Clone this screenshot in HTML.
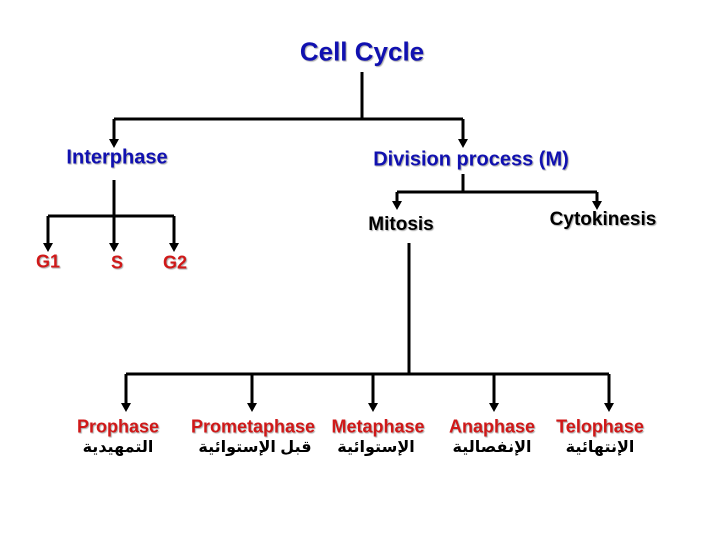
<!DOCTYPE html>
<html><head><meta charset="utf-8"><style>
body{margin:0;width:720px;height:540px;background:#fff;position:relative;overflow:hidden;font-family:"Liberation Sans",Arial,sans-serif;font-weight:bold}
.t{position:absolute;transform:translate(-50%,-50%);white-space:nowrap;text-shadow:1px 1px 1px #aaa}
.b{color:#1010b0;font-size:20px}
.r{color:#d01818;font-size:18px}
.k{color:#000;font-size:19px}
.a{color:#000;font-size:16px;font-family:"Liberation Sans","DejaVu Sans",sans-serif;text-shadow:none}
</style></head><body>
<svg width="720" height="540" style="position:absolute;left:0;top:0">
<g stroke="#000" stroke-width="3" fill="none">
<path d="M362,72 V119"/><path d="M114,119 H463"/>
<path d="M114,119 V140"/><path d="M463,119 V140"/>
<path d="M114,180 V216"/><path d="M48,216 H174"/>
<path d="M48,216 V244"/><path d="M114,216 V244"/><path d="M174,216 V244"/>
<path d="M463,174 V192"/><path d="M397,192 H597"/>
<path d="M397,192 V203"/><path d="M597,192 V203"/>
<path d="M409,243 V374"/><path d="M126,374 H609"/>
<path d="M126,374 V404"/><path d="M252,374 V404"/><path d="M373,374 V404"/><path d="M494,374 V404"/><path d="M609,374 V404"/>
</g>
<g fill="#000">
<polygon points="109,139 119,139 114,148"/><polygon points="458,139 468,139 463,148"/>
<polygon points="43,243 53,243 48,252"/><polygon points="109,243 119,243 114,252"/><polygon points="169,243 179,243 174,252"/>
<polygon points="392,201 402,201 397,210"/><polygon points="592,201 602,201 597,210"/>
<polygon points="121,403 131,403 126,412"/><polygon points="247,403 257,403 252,412"/><polygon points="368,403 378,403 373,412"/><polygon points="489,403 499,403 494,412"/><polygon points="604,403 614,403 609,412"/>
</g></svg>
<div class="t b" style="left:362px;top:52px;font-size:26px">Cell Cycle</div>
<div class="t b" style="left:117px;top:158px">Interphase</div>
<div class="t b" style="left:471px;top:160px">Division process (M)</div>
<div class="t k" style="left:401px;top:225px">Mitosis</div>
<div class="t k" style="left:603px;top:220px">Cytokinesis</div>
<div class="t r" style="left:48px;top:262px">G1</div>
<div class="t r" style="left:117px;top:263px">S</div>
<div class="t r" style="left:175px;top:263px">G2</div>
<div class="t r" style="left:118px;top:427px">Prophase</div>
<div class="t r" style="left:253px;top:427px">Prometaphase</div>
<div class="t r" style="left:378px;top:427px">Metaphase</div>
<div class="t r" style="left:492px;top:427px">Anaphase</div>
<div class="t r" style="left:600px;top:427px">Telophase</div>
<div class="t a" style="left:118px;top:447px" dir="rtl">التمهيدية</div>
<div class="t a" style="left:255px;top:447px" dir="rtl">قبل الإستوائية</div>
<div class="t a" style="left:376px;top:447px" dir="rtl">الإستوائية</div>
<div class="t a" style="left:492px;top:447px" dir="rtl">الإنفصالية</div>
<div class="t a" style="left:600px;top:447px" dir="rtl">الإنتهائية</div>
</body></html>
